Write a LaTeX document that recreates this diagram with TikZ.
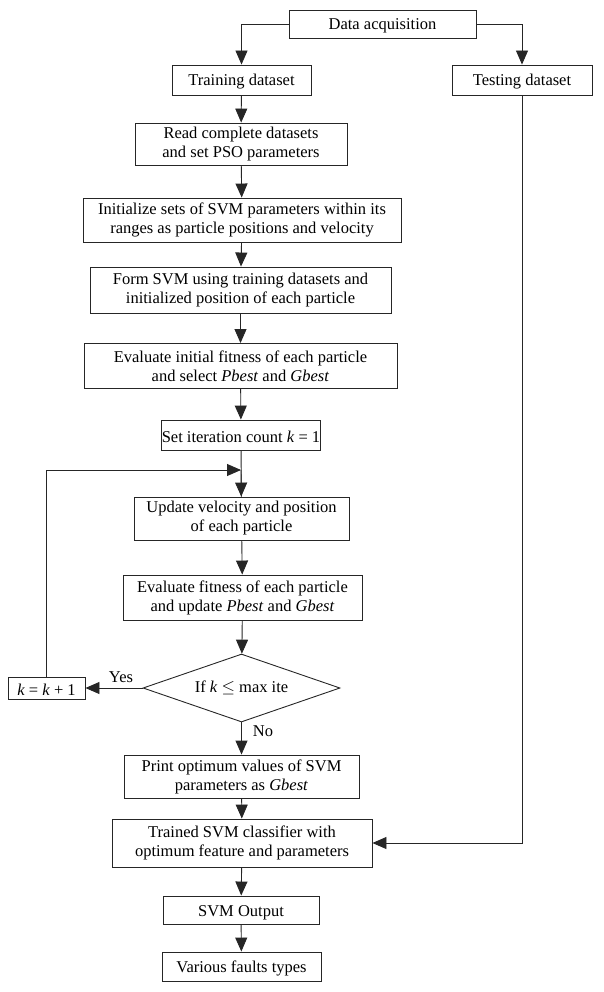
\documentclass[tikz,border=0pt]{standalone}
\usepackage{fontspec}
\setmainfont{Liberation Serif}
\usetikzlibrary{shapes.geometric,arrows.meta}
\begin{document}
\begin{tikzpicture}[x=1pt,y=-1pt,
  box/.style={draw=black!85,line width=0.9pt,inner sep=0pt,align=center,font=\fontsize{16.5}{19}\selectfont,execute at begin node={\rule{0pt}{15.5pt}}},
  dia/.style={draw=black!85,line width=0.9pt,diamond,aspect=2.9,inner sep=0pt,font=\fontsize{16.5}{19}\selectfont},
  conn/.style={draw=black!85,line width=0.9pt,-{Triangle[length=14pt,width=12pt]}},
  lbl/.style={font=\fontsize{16.5}{19}\selectfont,inner sep=0pt}]
\useasboundingbox (0,0) rectangle (604,992);
\node[box,minimum width=187,minimum height=28] (da) at (382.5,24) {Data acquisition};
\node[box,minimum width=139,minimum height=30] (tr) at (241.5,80) {Training dataset};
\node[box,minimum width=140,minimum height=30] (te) at (522,80) {Testing dataset};
\node[box,minimum width=212,minimum height=42] (rd) at (241,144) {Read complete datasets\\and set PSO parameters};
\node[box,minimum width=318,minimum height=44] (in) at (242,220) {Initialize sets of SVM parameters within its\\ranges as particle positions and velocity};
\node[box,minimum width=301,minimum height=46] (fo) at (240.5,290) {Form SVM using training datasets and\\initialized position of each particle};
\node[box,minimum width=313,minimum height=45] (ev) at (240.5,366) {Evaluate initial fitness of each particle\\and select \textit{Pbest} and \textit{Gbest}};
\node[box,minimum width=154,minimum height=30] (si) at (241,435) {Set iteration count \textit{k} = 1};
\coordinate (mg) at (241,470);
\node[box,minimum width=215,minimum height=43] (up) at (241.5,518.5) {Update velocity and position\\of each particle};
\node[box,minimum width=239,minimum height=45] (ef) at (242.5,597.5) {Evaluate fitness of each particle\\and update \textit{Pbest} and \textit{Gbest}};
\node[dia,minimum width=197,minimum height=68] (if) at (241.5,688) {If \textit{k} $\leq$ max ite};
\node[box,minimum width=77,minimum height=22] (kk) at (46.5,688) {\textit{k} = \textit{k} + 1};
\node[box,minimum width=235,minimum height=43] (pr) at (241.5,776.5) {Print optimum values of SVM\\parameters as \textit{Gbest}};
\node[box,minimum width=260,minimum height=48] (ts) at (242,843) {Trained SVM classifier with\\optimum feature and parameters};
\node[box,minimum width=156,minimum height=28] (so) at (241,910) {SVM Output};
\node[box,minimum width=159,minimum height=29] (vf) at (241.5,966.5) {Various faults types};
\node[lbl] (yes) at (121,677) {Yes};
\node[lbl] (no) at (263,731) {No};
\draw[conn] (da.west) -| (tr.north);
\draw[conn] (da.east) -| (te.north);
\draw[conn] (tr) -- (rd);
\draw[conn] (rd) -- (in);
\draw[conn] (in) -- (fo);
\draw[conn] (fo) -- (ev);
\draw[conn] (ev) -- (si);
\draw[draw=black!85,line width=0.9pt] (si) -- (up);
\draw[conn] (kk.north) |- (mg);
\draw[conn] (mg) -- (up);
\draw[conn] (up) -- (ef);
\draw[conn] (ef) -- (if);
\draw[conn] (if.west) -- (kk.east);
\draw[conn] (if.south) -- (pr.north);
\draw[conn] (pr) -- (ts);
\draw[conn] (te.south) |- (ts.east);
\draw[conn] (ts) -- (so);
\draw[conn] (so) -- (vf);
\end{tikzpicture}
\end{document}
